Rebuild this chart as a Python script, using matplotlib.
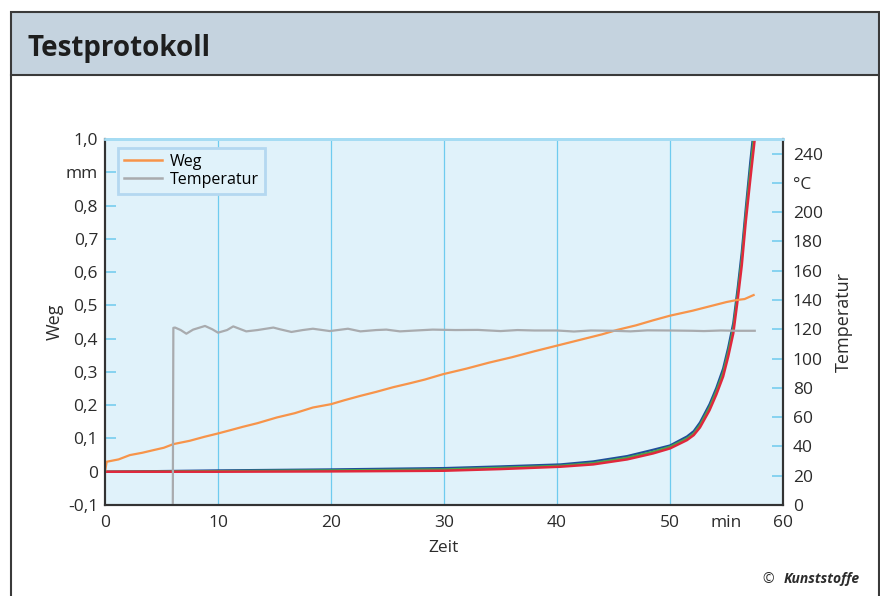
import numpy as np
import matplotlib
matplotlib.use("Agg")
import matplotlib.pyplot as plt
from matplotlib.patches import Rectangle
from matplotlib.lines import Line2D

plt.rcParams['font.family'] = ['Open Sans', 'DejaVu Sans']

# Weg (mm) over Zeit (min)
t_weg = [0, 0.15, 1.2, 2.2, 3.3, 4.3, 5.2, 6.05, 7.5, 8.8, 10, 11, 12.2, 13.5, 15.2, 16.8,
         18.4, 20, 21.2, 22.6, 24, 25.5, 27, 28.3, 29.9, 32, 34, 36, 38, 40, 42, 44, 45.3,
         47, 48.5, 50, 52, 53.5, 55, 55.9, 56.6, 57.4]
weg = [0, 0.030, 0.037, 0.050, 0.057, 0.065, 0.072, 0.083, 0.093, 0.105, 0.115, 0.124,
       0.135, 0.146, 0.163, 0.176, 0.193, 0.203, 0.215, 0.228, 0.240, 0.254, 0.266, 0.277,
       0.293, 0.310, 0.328, 0.344, 0.362, 0.379, 0.396, 0.413, 0.426, 0.440, 0.455, 0.469,
       0.484, 0.497, 0.510, 0.516, 0.519, 0.531]

# Temperatur (degC)
t_temp = [6.0, 6.05, 6.2, 6.7, 7.2, 7.8, 8.85, 9.5, 10, 10.8, 11.35, 12.5, 13.5, 14.9, 15.5,
          16.5, 17.5, 18.4, 19.9, 21.5, 22.6, 24, 24.9, 26.1, 27.5, 29, 31, 33, 35, 36.5, 38,
          40, 41.5, 43, 45, 46.5, 48, 50, 52, 53, 54.5, 56, 57.5]
temp = [0, 121, 121.2, 119.5, 117, 119.8, 122.3, 120, 117.7, 119.5, 122, 118.6, 119.5, 121.2,
        120, 118.2, 119.5, 120.4, 118.8, 120.4, 118.6, 119.5, 119.8, 118.6, 119.2, 119.8,
        119.5, 119.6, 118.8, 119.5, 119.2, 119.2, 118.5, 119.2, 119.0, 118.6, 119.3, 119.2,
        119.0, 118.8, 119.2, 119.0, 119.0]

# three creep curves (mm)
t_c = [0, 10, 20, 30, 35, 40.3, 43.2, 46.2, 48.5, 50, 51.5, 52.1, 52.65, 53.5, 54.1, 54.7,
       55.15, 55.6, 56.0, 56.35, 56.7, 57.1, 57.5]
blue = [0, 0.004, 0.007, 0.011, 0.016, 0.022, 0.031, 0.047, 0.066, 0.079, 0.106, 0.122,
        0.148, 0.203, 0.252, 0.31, 0.373, 0.447, 0.555, 0.66, 0.79, 0.93, 1.06]
green = [0, 0.002, 0.004, 0.007, 0.012, 0.018, 0.026, 0.042, 0.060, 0.075, 0.100, 0.115,
         0.140, 0.194, 0.242, 0.298, 0.360, 0.432, 0.538, 0.64, 0.77, 0.905, 1.03]
red = [0, 0.0, 0.001, 0.003, 0.008, 0.015, 0.022, 0.037, 0.055, 0.070, 0.095, 0.110,
       0.133, 0.185, 0.232, 0.286, 0.346, 0.416, 0.52, 0.62, 0.75, 0.877, 1.0]

left_ticks = [-0.1, 0, 0.1, 0.2, 0.3, 0.4, 0.5, 0.6, 0.7, 0.8, 0.9, 1.0]
left_labels = ['-0,1', '0', '0,1', '0,2', '0,3', '0,4', '0,5', '0,6', '0,7', '0,8', 'mm', '1,0']
right_ticks = [0, 20, 40, 60, 80, 100, 120, 140, 160, 180, 200, 220, 240]
right_labels = ['0', '20', '40', '60', '80', '100', '120', '140', '160', '180', '200', '°C', '240']
x_ticks = [0, 10, 20, 30, 40, 50, 55, 60]
x_labels = ['0', '10', '20', '30', '40', '50', 'min', '60']

c_orange = '#f7944a'
c_gray = '#a9abae'
c_tick = '#7fd0f0'
c_dark = '#2b2b2b'

fig = plt.figure(figsize=(8.8, 5.96), dpi=100)

# frame and header
fig.patches.append(Rectangle((11/880, 1-75/596), 868/880, 63/596, transform=fig.transFigure,
                             facecolor='#c5d3df', edgecolor='#3a3a3a', linewidth=1.5))
fig.lines.append(Line2D([11/880, 11/880], [0, 1-75/596], transform=fig.transFigure,
                        color='#3a3a3a', linewidth=1.5))
fig.lines.append(Line2D([879/880, 879/880], [0, 1-75/596], transform=fig.transFigure,
                        color='#3a3a3a', linewidth=1.5))
fig.text(27/880, 1-56/596, 'Testprotokoll', fontsize=20, fontweight='bold',
         color='#1e1e1e', va='baseline', ha='left')

ax = fig.add_axes([105/880, 91/596, 678/880, 366/596])
ax.set_facecolor('#e0f2fa')
ax.set_xlim(0, 60)
ax.set_ylim(-0.1, 1.0)

ax.plot(t_c, blue, color='#1f4e9a', linewidth=1.6, zorder=3, solid_joinstyle='round')
ax.plot(t_c, green, color='#4aa84a', linewidth=1.6, zorder=3, solid_joinstyle='round')
ax.plot(t_c, red, color='#e0283c', linewidth=1.8, zorder=3, solid_joinstyle='round')
ax.plot(t_weg, weg, color=c_orange, linewidth=1.6, zorder=4)

ax2 = ax.twinx()
ax2.set_ylim(0, 250)
ax2.plot(t_temp, temp, color=c_gray, linewidth=1.6)

# grid
for xv in [10, 20, 30, 40, 50]:
    ax.axvline(xv, color='#6ecbef', linewidth=0.9, zorder=1)

ax.set_xticks(x_ticks)
ax.set_xticklabels(x_labels)
ax.set_yticks(left_ticks)
ax.set_yticklabels(left_labels)
ax2.set_yticks(right_ticks)
ax2.set_yticklabels(right_labels)

ax.tick_params(axis='x', length=0, labelsize=12.5, pad=7, labelcolor=c_dark)
ax.tick_params(axis='y', direction='in', length=8, width=1.3, color=c_tick,
               labelsize=12.5, pad=5, labelcolor=c_dark)
ax2.tick_params(axis='y', direction='in', length=8, width=1.3, color=c_tick,
                labelsize=12.5, pad=7, labelcolor=c_dark)

for a in (ax, ax2):
    for s in ['left', 'bottom', 'right']:
        a.spines[s].set_color('#333333')
        a.spines[s].set_linewidth(1.5)
    a.spines['top'].set_color('#a6dcf3')
    a.spines['top'].set_linewidth(2)

fig.text(55/880, 1-322/596, 'Weg', rotation=90, fontsize=13, ha='center', va='center', color=c_dark)
fig.text(844/880, 1-322/596, 'Temperatur', rotation=90, fontsize=13, ha='center', va='center', color=c_dark)
fig.text(444/880, 1-548/596, 'Zeit', fontsize=12.5, ha='center', va='center', color=c_dark)

handles = [Line2D([], [], color=c_orange, linewidth=1.8),
           Line2D([], [], color=c_gray, linewidth=1.8)]
leg = ax2.legend(handles, ['Weg', 'Temperatur'], loc='upper left',
                 bbox_to_anchor=(13/678, 1-9/366), borderaxespad=0, fancybox=False,
                 framealpha=1, fontsize=11.5, handlelength=2.4, handletextpad=0.5,
                 labelspacing=0.15, borderpad=0.35)
leg.get_frame().set_facecolor('#e0f2fa')
leg.get_frame().set_edgecolor('#b4d8f0')
leg.get_frame().set_linewidth(2)

fig.text(768/880, 1-583/596, '©', fontsize=10, ha='center', va='baseline', color=c_dark)
fig.text(860/880, 1-583/596, 'Kunststoffe', fontsize=10, fontweight='bold', fontstyle='italic',
         ha='right', va='baseline', color=c_dark)

fig.savefig('out.png', dpi=100)
